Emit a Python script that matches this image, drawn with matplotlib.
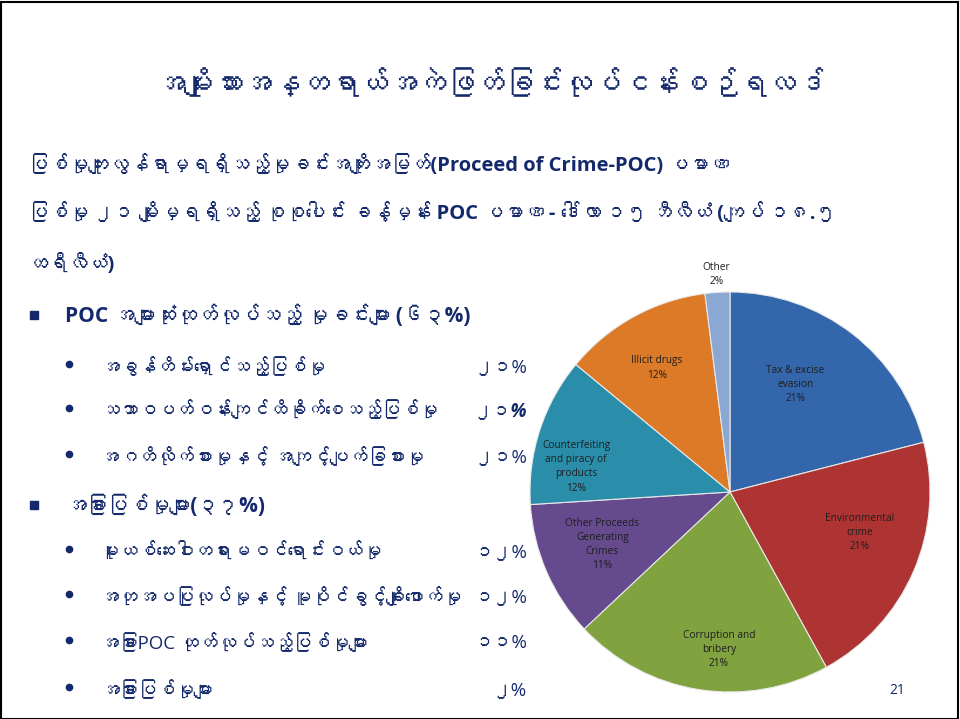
import matplotlib
matplotlib.use("Agg")
import matplotlib.pyplot as plt
import numpy as np
from matplotlib import font_manager
from matplotlib.ft2font import FT2Font
from matplotlib.patches import Rectangle

# look for any installed font that can draw Myanmar script
mm_font = None
for f in font_manager.fontManager.ttflist:
    try:
        if 0x1000 in FT2Font(f.fname).get_charmap():
            mm_font = f.name
            break
    except Exception:
        pass

fams = ["Open Sans", "DejaVu Sans"]
if mm_font:
    fams = ["Open Sans", mm_font, "DejaVu Sans"]
plt.rcParams["font.family"] = fams

# pie data
pie_labels = ["Tax & excise\nevasion", "Environmental\ncrime", "Corruption and\nbribery",
              "Other Proceeds\nGenerating\nCrimes", "Counterfeiting\nand piracy of\nproducts",
              "Illicit drugs", "Other"]
pie_values = [21, 21, 21, 11, 12, 12, 2]
pie_colors = ["#3366aa", "#ad3432", "#80a23f", "#654a8d", "#2a8eaa", "#dd7a27", "#8ba7d3"]
# label placement: radius and angle shift from the wedge middle
label_r = [0.63, 0.68, 0.79, 0.69, 0.78, 0.72, 1.09]
label_da = [6.5, 6, 5, -1, 8.7, 1.7, 0]

# slide text
title = "အမျိုးသားအန္တရာယ်အကဲဖြတ်ခြင်းလုပ်ငန်းစဉ်ရလဒ်"
intro = ["ပြစ်မှုကျူးလွန်ရာမှရရှိသည့်မှုခင်းအကျိုးအမြတ်(Proceed of Crime-POC) ပမာဏ",
         "ပြစ်မှု ၂၁ မျိုးမှရရှိသည့် စုစုပေါင်း ခန့်မှန်း POC ပမာဏ - ဒေါ်လာ ၁၅ ဘီလီယံ (ကျပ် ၁၈.၅",
         "ထရီလီယံ)"]
group1 = "POC အများဆုံးထုတ်လုပ်သည့် မှုခင်းများ (၆၃%)"
items1 = ["အခွန်တိမ်းရှောင်သည့်ပြစ်မှု", "သဘာဝပတ်ဝန်းကျင်ထိခိုက်စေသည့်ပြစ်မှု",
          "အဂတိလိုက်စားမှုနှင့် အကျင့်ပျက်ခြစားမှု"]
pct1 = ["၂၁%", "၂၁%", "၂၁%"]
group2 = "အခြားပြစ်မှုများ(၃၇%)"
items2 = ["မူးယစ်ဆေးဝါးတရားမဝင်ရောင်းဝယ်မှု", "အတုအပပြုလုပ်မှုနှင့် မူပိုင်ခွင့်ချိုးဖောက်မှု",
          "အခြားPOC ထုတ်လုပ်သည့်ပြစ်မှုများ", "အခြားပြစ်မှုများ"]
pct2 = ["၁၂%", "၁၂%", "၁၁%", "၂%"]

navy = "#14296b"
W, H = 960, 719
fig = plt.figure(figsize=(W / 100, H / 100), dpi=100)
fig.patch.set_facecolor("white")


def px(x, y):
    return x / W, 1 - y / H


fig.add_artist(Rectangle((0.001, 0.0), 0.997, 0.997, transform=fig.transFigure,
                         fill=False, ec="black", lw=1.5))

fig.text(*px(490, 85), title, ha="center", va="center", fontsize=21,
         fontweight="bold", color=navy)
for s, y in zip(intro, [165, 213, 264]):
    fig.text(*px(28, y), s, ha="left", va="center", fontsize=14.5,
             fontweight="bold", color=navy)


def bullet(x, y, size):
    fig.add_artist(plt.Line2D([x / W], [1 - y / H], marker="s" if size > 5 else "o",
                              markersize=size, color=navy, transform=fig.transFigure))


bullet(34, 315, 6)
fig.text(*px(65, 316), group1, ha="left", va="center", fontsize=15,
         fontweight="bold", color=navy)
for i, (s, p, y) in enumerate(zip(items1, pct1, [367, 411, 457])):
    sty = dict(fontweight="bold", style="italic") if i == 1 else {}
    bullet(69, y - 3, 4.5)
    fig.text(*px(100, y), s, ha="left", va="center", fontsize=13.5, color=navy, **sty)
    fig.text(*px(527, y), p, ha="right", va="center", fontsize=13.5, color=navy, **sty)

bullet(34, 505, 6)
fig.text(*px(65, 506), group2, ha="left", va="center", fontsize=15,
         fontweight="bold", color=navy)
for s, p, y in zip(items2, pct2, [552, 597, 643, 690]):
    bullet(69, y - 3, 4.5)
    fig.text(*px(100, y), s, ha="left", va="center", fontsize=13.5, color=navy)
    fig.text(*px(527, y), p, ha="right", va="center", fontsize=13.5, color=navy)

fig.text(*px(897, 690), "21", ha="center", va="center", fontsize=10, color=navy)

# pie: centre (730, 492), radius 200 px
ax = fig.add_axes([530 / W, (H - 692) / H, 400 / W, 400 / H])
wedges, _ = ax.pie(pie_values, colors=pie_colors, startangle=90, counterclock=False,
                   wedgeprops=dict(linewidth=0.8, edgecolor="#e8e8e8"))
ax.set_xlim(-1, 1)
ax.set_ylim(-1, 1)
ax.set_aspect("equal")
for w, lab, v, r, da in zip(wedges, pie_labels, pie_values, label_r, label_da):
    mid = np.deg2rad((w.theta1 + w.theta2) / 2 + da)
    ax.text(r * np.cos(mid), r * np.sin(mid), f"{lab}\n{v}%", ha="center", va="center",
            fontsize=7.3, color="#1e1e1e", linespacing=1.4)

fig.savefig("out.png", dpi=100)
